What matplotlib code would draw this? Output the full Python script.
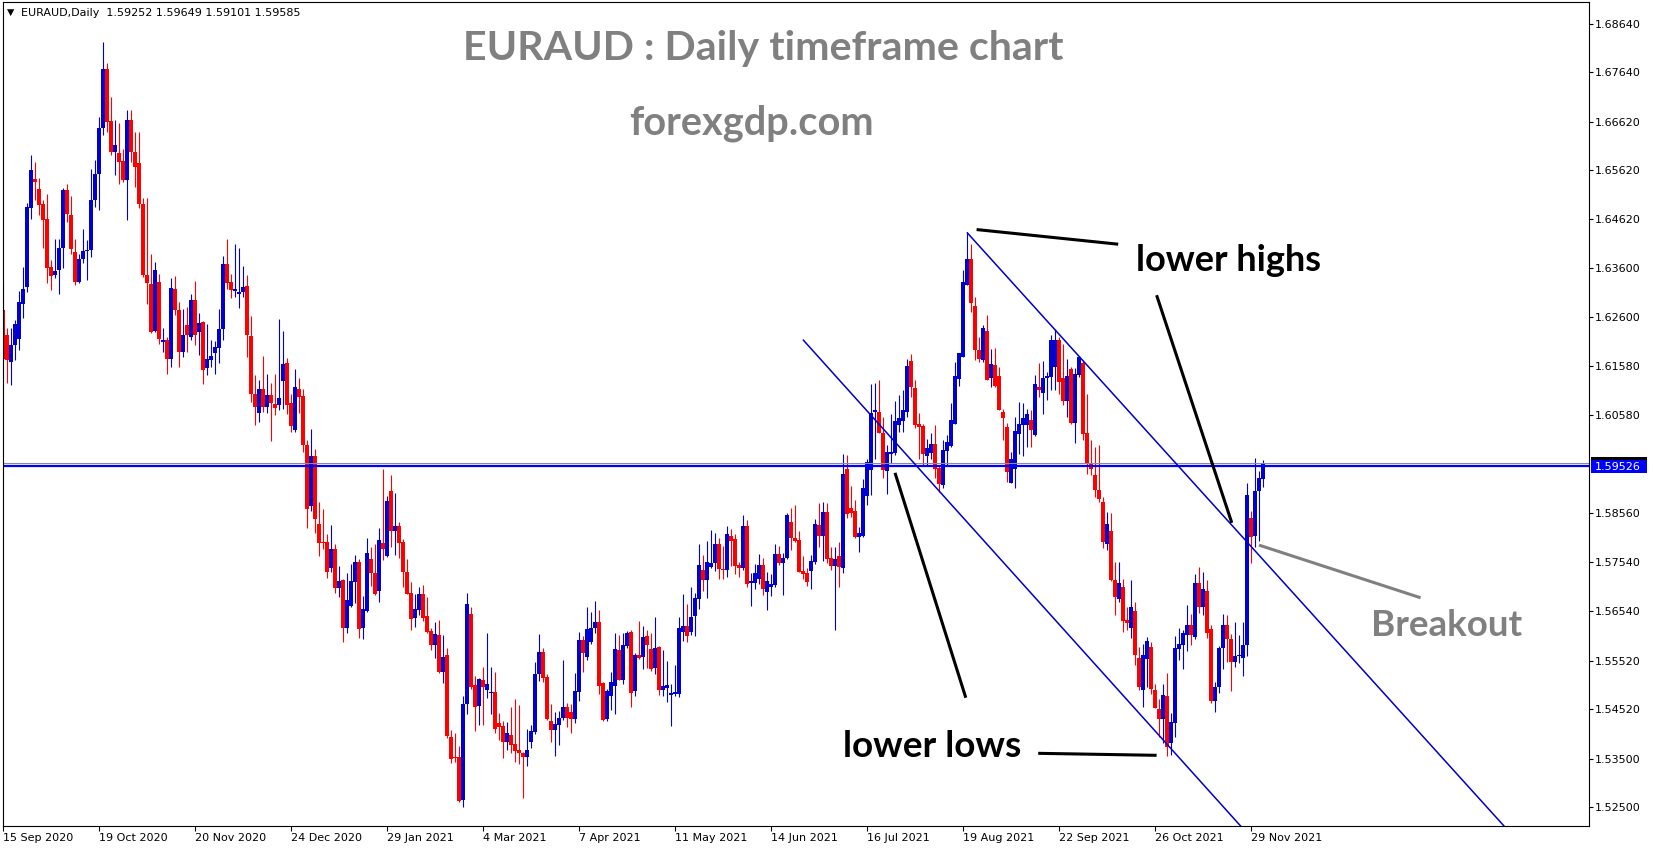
import numpy as np
import matplotlib
matplotlib.use("Agg")
import matplotlib.pyplot as plt
from matplotlib.patches import Rectangle

# daily bars, prices in units of 0.0001 (one entry per bar, oldest first)
open_pts = [
    16274, 16222, 16167, 16202, 16215, 16287, 16322, 16485, 16543, 16524,
    16492, 16461, 16363, 16347, 16356, 16401, 16521, 16469, 16394, 16332,
    16380, 16396, 16397, 16500, 16555, 16648, 16770, 16663, 16600, 16598,
    16581, 16541, 16665, 16600, 16576, 16493, 16347, 16327, 16231, 16332,
    16209, 16213, 16174, 16318, 16275, 16188, 16243, 16219, 16294, 16228,
    16250, 16155, 16171, 16185, 16195, 16234, 16368, 16331, 16314, 16308,
    16311, 16323, 16220, 16101, 16061, 16112, 16075, 16099, 16080, 16078,
    16128, 16164, 16082, 16027, 16112, 16097, 15996, 15871, 15973, 15834,
    15797, 15797, 15743, 15781, 15702, 15718, 15620, 15665, 15714, 15754,
    15620, 15655, 15762, 15733, 15695, 15795, 15768, 15901, 15819, 15829,
    15797, 15735, 15692, 15639, 15657, 15690, 15644, 15613, 15585, 15605,
    15529, 15563, 15394, 15354, 15354, 15264, 15462, 15648, 15502, 15459,
    15512, 15491, 15486, 15487, 15424, 15417, 15385, 15399, 15380, 15368,
    15362, 15353, 15384, 15404, 15524, 15570, 15519, 15427, 15408, 15419,
    15433, 15457, 15447, 15432, 15488, 15594, 15560, 15591, 15620, 15632,
    15505, 15432, 15478, 15500, 15574, 15511, 15583, 15610, 15489, 15563,
    15559, 15603, 15576, 15537, 15579, 15491, 15496, 15481, 15483, 15484,
    15611, 15623, 15611, 15644, 15679, 15738, 15718, 15745, 15752, 15793,
    15740, 15738, 15808, 15802, 15749, 15743, 15829, 15712, 15712, 15719,
    15749, 15694, 15704, 15707, 15771, 15752, 15764, 15838, 15805, 15800,
    15736, 15732, 15737, 15754, 15831, 15808, 15857, 15764, 15747, 15768,
    15742, 15946, 15867, 15860, 15807, 15808, 15891, 15944, 16064, 16064,
    16021, 15943, 15977, 15980, 16037, 16046, 16064, 16169, 16113, 16039,
    16035, 15973, 15980, 15999, 15948, 15913, 15984, 15994, 16039, 16131,
    16178, 16325, 16380, 16282, 16191, 16172, 16231, 16134, 16161, 16138,
    16064, 16034, 15918, 15946, 16018, 16037, 16037, 16047, 16016, 16116,
    16104, 16134, 16137, 16157, 16213, 16133, 16087, 16152, 16042, 16140,
    16165, 16020, 15958, 15934, 15903, 15879, 15792, 15819, 15718, 15678,
    15703, 15635, 15620, 15654, 15557, 15491, 15555, 15579, 15491, 15452,
    15431, 15478, 15382, 15423, 15575, 15584, 15605, 15625, 15601, 15712,
    15663, 15695, 15618, 15469, 15498, 15577, 15625, 15596, 15548, 15561,
    15557, 15585, 15845, 15808, 15901, 15925,
]
high_pts = [
    16325, 16236, 16236, 16253, 16313, 16363, 16495, 16593, 16578, 16545,
    16500, 16513, 16377, 16421, 16421, 16526, 16533, 16508, 16421, 16390,
    16440, 16418, 16565, 16583, 16672, 16826, 16783, 16712, 16665, 16660,
    16605, 16686, 16686, 16641, 16641, 16504, 16504, 16390, 16373, 16349,
    16236, 16219, 16339, 16344, 16291, 16277, 16281, 16308, 16333, 16267,
    16252, 16246, 16212, 16211, 16277, 16385, 16420, 16348, 16410, 16401,
    16364, 16347, 16261, 16140, 16130, 16179, 16143, 16123, 16143, 16255,
    16231, 16176, 16102, 16152, 16133, 16112, 16007, 16028, 15987, 15879,
    15865, 15813, 15831, 15792, 15747, 15721, 15733, 15751, 15769, 15762,
    15685, 15805, 15786, 15793, 15826, 15946, 15891, 15934, 15898, 15838,
    15802, 15762, 15714, 15689, 15703, 15708, 15682, 15620, 15631, 15635,
    15605, 15577, 15409, 15402, 15375, 15478, 15692, 15663, 15520, 15517,
    15539, 15609, 15539, 15529, 15443, 15428, 15426, 15457, 15473, 15460,
    15364, 15412, 15419, 15548, 15607, 15577, 15524, 15462, 15445, 15449,
    15553, 15465, 15462, 15527, 15611, 15603, 15662, 15653, 15675, 15656,
    15508, 15493, 15529, 15608, 15605, 15608, 15613, 15615, 15568, 15633,
    15624, 15615, 15608, 15641, 15582, 15574, 15551, 15504, 15543, 15642,
    15689, 15668, 15703, 15692, 15793, 15769, 15799, 15821, 15814, 15804,
    15788, 15830, 15823, 15813, 15754, 15852, 15841, 15732, 15751, 15771,
    15764, 15734, 15730, 15792, 15788, 15773, 15855, 15867, 15872, 15819,
    15768, 15742, 15769, 15843, 15877, 15878, 15876, 15786, 15786, 15797,
    15977, 15975, 15911, 15882, 15828, 15925, 15968, 16121, 16123, 16130,
    16054, 15996, 16059, 16086, 16099, 16109, 16174, 16183, 16130, 16061,
    16040, 16008, 16021, 16037, 15955, 16006, 16016, 16083, 16167, 16186,
    16356, 16435, 16411, 16301, 16219, 16243, 16263, 16193, 16195, 16157,
    16071, 16042, 15982, 16054, 16085, 16082, 16071, 16069, 16140, 16164,
    16169, 16147, 16222, 16235, 16219, 16205, 16174, 16157, 16154, 16179,
    16171, 16102, 16006, 15992, 15996, 15889, 15859, 15855, 15754, 15754,
    15721, 15663, 15718, 15673, 15579, 15587, 15601, 15591, 15503, 15472,
    15503, 15526, 15443, 15602, 15620, 15615, 15666, 15647, 15730, 15744,
    15735, 15718, 15625, 15508, 15581, 15647, 15646, 15606, 15632, 15605,
    15632, 15917, 15861, 15970, 15943, 15965,
]
low_pts = [
    16171, 16123, 16119, 16171, 16191, 16257, 16312, 16462, 16500, 16469,
    16401, 16329, 16315, 16339, 16307, 16360, 16456, 16390, 16325, 16329,
    16370, 16335, 16384, 16487, 16481, 16635, 16641, 16593, 16552, 16533,
    16537, 16460, 16579, 16528, 16485, 16342, 16287, 16226, 16229, 16205,
    16188, 16143, 16157, 16263, 16157, 16178, 16188, 16212, 16202, 16181,
    16121, 16140, 16157, 16143, 16164, 16213, 16318, 16298, 16301, 16279,
    16301, 16178, 16085, 16037, 16044, 16064, 16061, 16005, 16058, 16068,
    16071, 16060, 16022, 16023, 16062, 15982, 15826, 15861, 15814, 15768,
    15781, 15723, 15735, 15692, 15682, 15591, 15609, 15662, 15670, 15599,
    15596, 15653, 15706, 15688, 15672, 15760, 15766, 15786, 15769, 15764,
    15704, 15689, 15615, 15622, 15646, 15634, 15609, 15574, 15558, 15526,
    15505, 15392, 15342, 15344, 15261, 15251, 15442, 15493, 15407, 15419,
    15419, 15475, 15442, 15402, 15388, 15352, 15368, 15361, 15344, 15338,
    15268, 15334, 15371, 15401, 15510, 15507, 15430, 15385, 15356, 15379,
    15430, 15416, 15402, 15423, 15469, 15528, 15554, 15586, 15609, 15484,
    15428, 15428, 15450, 15441, 15511, 15503, 15578, 15457, 15479, 15555,
    15534, 15537, 15531, 15524, 15481, 15479, 15467, 15418, 15478, 15476,
    15593, 15591, 15605, 15602, 15658, 15696, 15681, 15743, 15737, 15720,
    15721, 15725, 15747, 15730, 15725, 15738, 15704, 15665, 15699, 15709,
    15687, 15656, 15685, 15703, 15749, 15687, 15762, 15780, 15797, 15734,
    15721, 15706, 15699, 15750, 15786, 15757, 15752, 15738, 15615, 15703,
    15733, 15845, 15847, 15805, 15775, 15807, 15872, 15893, 15968, 16020,
    15927, 15896, 15958, 15975, 16022, 16023, 16054, 16094, 16032, 15968,
    15955, 15953, 15968, 15927, 15900, 15907, 15955, 15992, 16039, 16117,
    16178, 16325, 16270, 16172, 16167, 16167, 16130, 16116, 16115, 16068,
    16006, 15920, 15917, 15907, 15977, 15973, 15992, 15991, 16015, 16095,
    16060, 16088, 16109, 16109, 16102, 16078, 16054, 16039, 16001, 16137,
    16006, 15937, 15934, 15889, 15879, 15783, 15780, 15716, 15646, 15673,
    15610, 15615, 15599, 15543, 15491, 15457, 15498, 15484, 15454, 15395,
    15382, 15355, 15357, 15395, 15553, 15534, 15572, 15584, 15596, 15649,
    15646, 15598, 15464, 15447, 15486, 15534, 15548, 15489, 15539, 15546,
    15520, 15562, 15752, 15786, 15799, 15910,
]
close_pts = [
    16174, 16171, 16202, 16246, 16291, 16318, 16487, 16562, 16538, 16490,
    16460, 16360, 16344, 16354, 16401, 16521, 16471, 16399, 16332, 16380,
    16395, 16397, 16500, 16555, 16648, 16771, 16662, 16600, 16613, 16579,
    16541, 16665, 16600, 16569, 16493, 16346, 16330, 16229, 16356, 16215,
    16213, 16174, 16320, 16275, 16188, 16222, 16222, 16294, 16222, 16248,
    16150, 16174, 16179, 16198, 16235, 16368, 16330, 16315, 16317, 16311,
    16322, 16222, 16102, 16075, 16112, 16075, 16099, 16082, 16073, 16092,
    16163, 16078, 16036, 16115, 16095, 15996, 15865, 15973, 15843, 15795,
    15795, 15735, 15781, 15702, 15716, 15620, 15677, 15716, 15754, 15617,
    15658, 15773, 15732, 15690, 15800, 15781, 15881, 15819, 15829, 15795,
    15735, 15690, 15637, 15658, 15690, 15640, 15611, 15585, 15606, 15528,
    15559, 15397, 15349, 15352, 15263, 15462, 15668, 15497, 15456, 15515,
    15497, 15504, 15488, 15412, 15416, 15385, 15403, 15378, 15366, 15361,
    15354, 15368, 15406, 15524, 15570, 15517, 15431, 15408, 15421, 15433,
    15457, 15433, 15431, 15489, 15594, 15567, 15616, 15620, 15631, 15500,
    15430, 15489, 15508, 15576, 15512, 15585, 15609, 15486, 15563, 15558,
    15600, 15584, 15534, 15578, 15491, 15500, 15502, 15486, 15488, 15620,
    15624, 15602, 15641, 15680, 15749, 15718, 15754, 15752, 15792, 15740,
    15738, 15812, 15799, 15747, 15743, 15829, 15709, 15716, 15732, 15749,
    15699, 15716, 15710, 15771, 15753, 15764, 15852, 15804, 15799, 15735,
    15730, 15714, 15757, 15833, 15808, 15857, 15762, 15747, 15762, 15744,
    15937, 15854, 15855, 15807, 15815, 15907, 15961, 16061, 16068, 16021,
    15944, 15982, 15982, 16046, 16052, 16069, 16158, 16115, 16037, 16034,
    15977, 15989, 15998, 15946, 15915, 15986, 16003, 16047, 16138, 16185,
    16332, 16380, 16288, 16191, 16174, 16236, 16130, 16163, 16117, 16069,
    16051, 15941, 15968, 16025, 16040, 16052, 16059, 16027, 16121, 16110,
    16134, 16138, 16213, 16213, 16126, 16087, 16138, 16042, 16142, 16178,
    16018, 15958, 15946, 15903, 15884, 15797, 15833, 15718, 15683, 15711,
    15634, 15630, 15662, 15563, 15497, 15563, 15593, 15493, 15454, 15431,
    15481, 15373, 15426, 15578, 15586, 15608, 15625, 15605, 15712, 15663,
    15699, 15608, 15469, 15498, 15577, 15625, 15596, 15548, 15561, 15563,
    15585, 15893, 15807, 15902, 15927, 15959,
]

# date labels on the time axis (bar index where each label sits)
date_bars = [0, 24, 48, 72, 96, 120, 144, 168, 192, 216, 240, 264, 288, 312]
date_labels = ["15 Sep 2020", "19 Oct 2020", "20 Nov 2020", "24 Dec 2020",
               "29 Jan 2021", "4 Mar 2021", "7 Apr 2021", "11 May 2021",
               "14 Jun 2021", "16 Jul 2021", "19 Aug 2021", "22 Sep 2021",
               "26 Oct 2021", "29 Nov 2021"]
price_ticks = [1.52500, 1.53500, 1.54520, 1.55520, 1.56540, 1.57540, 1.58560,
               1.60580, 1.61580, 1.62600, 1.63600, 1.64620, 1.65620, 1.66620,
               1.67640, 1.68640]

level_price = 1.59526   # horizontal line drawn on the chart
bid_price = 1.59585     # last close
ohlc_text = "EURAUD,Daily  1.59252 1.59649 1.59101 1.59585"

# drawn lines: (bar1, price1, bar2, price2)
channel_lines = [(241.1, 1.64328, 375.25, 1.52112),
                 (200.1, 1.62119, 309.4, 1.52112)]
black_lines = [(243.4, 1.64398, 278.8, 1.64096),
               (288.4, 1.63046, 307.2, 1.58357),
               (223.0, 1.59387, 240.7, 1.54754),
               (258.8, 1.53609, 288.4, 1.53568)]
breakout_line = (314.0, 1.57898, 354.4, 1.56813)

o = np.array(open_pts) / 1e4
h = np.array(high_pts) / 1e4
l = np.array(low_pts) / 1e4
c = np.array(close_pts) / 1e4
idx = np.arange(len(c))

W, H = 1653, 850
BLUE = "#0000d2"
RED = "#ff0000"
GRAY = "#808080"

fig = plt.figure(figsize=(W / 100, H / 100), dpi=100)
fig.patch.set_facecolor("white")


def fx(x):
    return x / W


def fy(y):
    return 1 - y / H


ax = fig.add_axes([fx(2.5), fy(826), fx(1589 - 2.5), (826 - 2.3) / H])
ax.set_xlim(-0.125, 396.5)
ax.set_ylim(1.52112, 1.69079)

# candles
up = c >= o
cols = np.where(up, BLUE, RED)
ax.vlines(idx, l, h, colors=cols, lw=0.8)
body_low = np.minimum(o, c)
body_h = np.maximum(np.abs(c - o), 0.00021)
ax.bar(idx, body_h, bottom=body_low, width=0.78, color=cols, linewidth=0)

# horizontal level and bid line
ax.axhline(bid_price, color="#8c8c8c", lw=0.8)
ax.axhline(level_price, color="#0000ff", lw=1.6)

for x1, y1, x2, y2 in channel_lines:
    ax.plot([x1, x2], [y1, y2], color="#0000c8", lw=1.1)
for x1, y1, x2, y2 in black_lines:
    ax.plot([x1, x2], [y1, y2], color="black", lw=2.2, solid_capstyle="butt")
ax.plot([breakout_line[0], breakout_line[2]], [breakout_line[1], breakout_line[3]],
        color=GRAY, lw=2.2, solid_capstyle="butt")

# axes look
for s in ax.spines.values():
    s.set_linewidth(0.8)
    s.set_color("black")
ax.yaxis.tick_right()
ax.set_yticks(price_ticks)
ax.set_yticklabels(["%.5f" % v for v in price_ticks])
ax.set_xticks(date_bars)
ax.set_xticklabels(date_labels)
for lbl in ax.get_xticklabels():
    lbl.set_horizontalalignment("left")
ax.tick_params(axis="x", direction="out", length=3.6, width=0.8, pad=1.5,
               labelsize=8.0, colors="black")
ax.tick_params(axis="y", direction="out", length=2.6, width=0.8, pad=1.8,
               labelsize=8.0, colors="black")

# price boxes on the right scale
fig.add_artist(Rectangle((fx(1590.7), fy(469.6)), fx(56), 13 / H,
                         transform=fig.transFigure, color="black", lw=0))
fig.add_artist(Rectangle((fx(1590.7), fy(473.3)), fx(56), 13.3 / H,
                         transform=fig.transFigure, color="#0000ff", lw=0))
fig.text(fx(1595), fy(466.6), "%.5f" % level_price, color="white",
         fontsize=8.0, va="center", ha="left")

# header
fig.text(fx(7), fy(12.7), "\u25bc", fontsize=6.8, va="center", ha="left")
fig.text(fx(21), fy(12.7), ohlc_text, fontsize=8.0, va="center", ha="left")

bold = dict(family="Lato", fontweight="bold")
fig.text(fx(463), fy(60), "EURAUD : Daily timeframe chart", color=GRAY,
         fontsize=29.6, va="baseline", ha="left", **bold)
fig.text(fx(629), fy(135), "forexgdp.com", color=GRAY,
         fontsize=28.6, va="baseline", ha="left", **bold)
fig.text(fx(1136.5), fy(271), "lower highs", color="black",
         fontsize=26, va="baseline", ha="left", **bold)
fig.text(fx(842.7), fy(757.3), "lower lows", color="black",
         fontsize=26.6, va="baseline", ha="left", **bold)
fig.text(fx(1370.7), fy(635.7), "Breakout", color=GRAY,
         fontsize=26.5, va="baseline", ha="left", **bold)

fig.savefig("out.png", dpi=100, facecolor="white")
